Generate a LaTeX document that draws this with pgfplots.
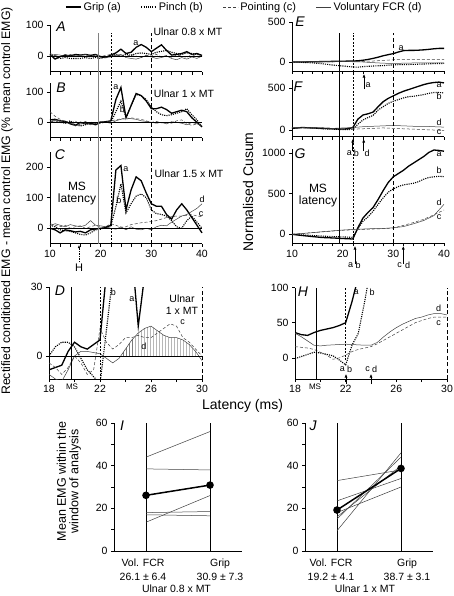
\documentclass[border=0pt]{standalone}
\usepackage{fontspec}
\setmainfont{Liberation Sans}
\usepackage{pgfplots}
\pgfplotsset{compat=1.18}
\usetikzlibrary{patterns,arrows.meta}
\newcommand{\fs}[2]{\fontsize{#1bp}{#2bp}\selectfont}
\pgfplotsset{
  base/.style={scale only axis, axis x line*=bottom, axis y line*=left,
    axis line style={-, line width=0.6bp},
    tick align=outside, major tick length=3bp, minor tick length=3bp,
    tick style={black, line width=0.6bp},
    tick label style={font=\fs{10.5}{12}},
    /pgf/number format/assume math mode=true,
    /pgf/number format/1000 sep={},
    clip=false},
  lt/.style={xmin=10, xmax=40, width=152bp, xtick={10,20,30,40}, minor xtick={12,14,...,38}},
  zt/.style={xmin=18, xmax=30, xtick={18,22,26,30}, minor xtick={20,24,28}, clip=true, clip mode=individual},
  ga/.style={black, line width=1.3bp},
  gb/.style={black, line width=1.1bp, dash pattern=on 1.1bp off 1.1bp},
  gc/.style={black!75, line width=0.5bp, dash pattern=on 3bp off 2bp},
  gd/.style={black!75, line width=0.5bp},
}
\begin{document}
\begin{tikzpicture}
\path[use as bounding box] (0,0) rectangle (454bp,-596bp);

% ---------------- A ----------------
\begin{axis}[base, lt, at={(50bp,-71.5bp)}, anchor=south west, height=46.5bp,
  ymin=-50, ymax=100, ytick={0,100}, xticklabels={},
  legend columns=4, legend cell align=left,
  legend image code/.code={\draw[#1] (0bp,0bp) -- (15bp,0bp);},
  legend style={at={(0.099,1.387)}, anchor=west, draw=none, fill=none, inner sep=0pt,
    font=\fs{11}{13}, /tikz/every even column/.append style={column sep=18bp}}]
\addplot[ga] coordinates {(10,5)(11,-10)(12,-2)(13,3)(14,0)(15,5)(16,3)(17,5)(18,2)(19,5)(20,-3)(21,-5)(22,3)(23,10)(24,22)(25,8)(26,12)(27,28)(28,37)(29,28)(30,14)(31,25)(32,36)(33,18)(34,3)(35,5)(36,8)(37,14)(38,5)(39,8)(40,2)};
\addplot[gb] coordinates {(10,5)(11,0)(12,-8)(13,-5)(14,-8)(15,-8)(16,-8)(17,-5)(18,-8)(19,-5)(20,-8)(21,-3)(22,0)(23,5)(24,0)(25,5)(26,2)(27,8)(28,10)(29,8)(30,5)(31,12)(32,15)(33,18)(34,12)(35,8)(36,5)(37,10)(38,8)(39,5)(40,2)};
\addplot[gc] coordinates {(10,8)(11,2)(12,-3)(13,5)(14,-2)(15,3)(16,0)(17,-3)(18,3)(19,0)(20,-2)(21,2)(22,5)(23,0)(24,3)(25,-3)(26,5)(27,0)(28,-5)(29,3)(30,0)(31,5)(32,-3)(33,2)(34,-5)(35,3)(36,0)(37,-5)(38,5)(39,-3)(40,0)};
\addplot[gd] coordinates {(10,0)(11,5)(12,3)(13,-2)(14,5)(15,0)(16,3)(17,5)(18,-2)(19,4)(20,0)(21,-5)(22,-3)(23,2)(24,5)(25,-5)(26,-8)(27,-10)(28,-5)(29,2)(30,-3)(31,-8)(32,-5)(33,0)(34,-8)(35,-12)(36,-5)(37,-10)(38,-3)(39,-8)(40,0)};
\legend{Grip (a), Pinch (b), Pointing (c), Voluntary FCR (d)}
\draw[line width=0.4bp] (axis cs:10,0) -- (axis cs:40,0);
\end{axis}

% ---------------- B ----------------
\begin{axis}[base, lt, at={(50bp,-137.5bp)}, anchor=south west, height=54.6bp,
  ymin=-50, ymax=130, ytick={0,100}, xticklabels={}]
\addplot[ga] coordinates {(10,8)(11,10)(12,5)(13,3)(14,-5)(15,-10)(16,0)(17,-5)(18,-3)(19,-8)(20,0)(21,2)(22,5)(23,75)(24,115)(25,15)(26,55)(27,95)(28,88)(29,70)(30,45)(31,45)(32,50)(33,42)(34,30)(35,35)(36,40)(37,35)(38,15)(39,0)(40,-15)};
\addplot[gb] coordinates {(10,3)(11,5)(12,0)(13,-3)(14,5)(15,-8)(16,-12)(17,-8)(18,0)(19,-5)(20,0)(21,3)(22,0)(23,35)(24,70)(25,15)(26,55)(27,92)(28,88)(29,75)(30,50)(31,35)(32,25)(33,22)(34,25)(35,30)(36,35)(37,45)(38,25)(39,8)(40,-15)};
\addplot[gc] coordinates {(10,35)(11,20)(12,10)(13,3)(14,-5)(15,5)(16,-10)(17,-3)(18,-8)(19,0)(20,-5)(21,2)(22,5)(23,8)(24,12)(25,10)(26,15)(27,12)(28,10)(29,5)(30,0)(31,3)(32,-2)(33,0)(34,-3)(35,5)(36,8)(37,-5)(38,-10)(39,-5)(40,-12)};
\addplot[gd] coordinates {(10,0)(11,8)(12,5)(13,-3)(14,0)(15,-12)(16,-5)(17,3)(18,-8)(19,-3)(20,3)(21,0)(22,-3)(23,5)(24,10)(25,15)(26,12)(27,10)(28,5)(29,3)(30,0)(31,-3)(32,0)(33,-5)(34,2)(35,0)(36,-3)(37,-8)(38,0)(39,-5)(40,-10)};
\draw[line width=0.4bp] (axis cs:10,0) -- (axis cs:40,0);
\end{axis}

% ---------------- C ----------------
\begin{axis}[base, lt, at={(50bp,-243.6bp)}, anchor=south west, height=91.9bp,
  ymin=-50, ymax=250, ytick={0,100,200}]
\addplot[ga] coordinates {(10,0)(11,-5)(12,-15)(13,-5)(14,-8)(15,-12)(16,-10)(17,-15)(18,-5)(19,-2)(20,0)(21,2)(22,10)(23,190)(24,205)(25,60)(26,125)(27,168)(28,155)(29,115)(30,80)(31,72)(32,72)(33,45)(34,30)(35,60)(36,80)(37,60)(38,35)(39,10)(40,-15)};
\addplot[gb] coordinates {(10,10)(11,5)(12,-5)(13,-8)(14,-10)(15,-15)(16,-20)(17,-22)(18,-15)(19,-5)(20,-3)(21,5)(22,8)(23,70)(24,145)(25,50)(26,80)(27,105)(28,112)(29,100)(30,60)(31,48)(32,45)(33,40)(34,25)(35,5)(36,0)(37,25)(38,40)(39,20)(40,0)};
\addplot[gc] coordinates {(10,15)(11,10)(12,5)(13,10)(14,0)(15,5)(16,8)(17,0)(18,5)(19,10)(20,3)(21,5)(22,15)(23,10)(24,3)(25,5)(26,12)(27,15)(28,18)(29,20)(30,22)(31,25)(32,30)(33,35)(34,38)(35,40)(36,40)(37,42)(38,45)(39,40)(40,38)};
\addplot[gd] coordinates {(10,8)(11,15)(12,10)(13,5)(14,12)(15,8)(16,5)(17,10)(18,25)(19,10)(20,8)(21,5)(22,0)(23,-3)(24,5)(25,-5)(26,5)(27,-3)(28,-5)(29,0)(30,-5)(31,5)(32,10)(33,8)(34,20)(35,30)(36,40)(37,45)(38,55)(39,65)(40,80)};
\draw[line width=0.4bp] (axis cs:10,0) -- (axis cs:40,0);
\draw[gray, line width=1bp] (axis cs:19.5,-50) -- (axis cs:19.5,637);
\draw[line width=0.5bp, dash pattern=on 2bp off 1.5bp] (axis cs:22,-50) -- (axis cs:22,637);
\draw[line width=0.5bp, dash pattern=on 4bp off 2.5bp] (axis cs:30,-50) -- (axis cs:30,637);
\end{axis}

% ---------------- D ----------------
\begin{axis}[base, zt, at={(49bp,-379bp)}, anchor=south west, width=153bp, height=92bp,
  ymin=-10, ymax=30, ytick={0,30}]
\addplot[draw=none, pattern=vertical lines, pattern color=black!80, forget plot] coordinates {(23.625,0)(24,3)(24.5,7)(25,10)(25.5,12)(26,13)(26.5,11)(27,9)(27.5,8)(28,8)(28.5,7)(29,5)(29.5,2)(29.75,0)} \closedcycle;
\addplot[ga] coordinates {(18,-6)(18.5,-5)(19,-4)(19.5,2)(20,6)(20.5,4)(21,3)(21.5,5)(22,7)(22.5,36)(23,75)(23.5,95)(24,115)(24.5,45)(25,13)(25.5,35)(26,55)(26.5,75)(27,95)(28,88)(29,70)(30,45)};
\addplot[gb] coordinates {(18,0)(18.5,4)(19,6)(19.5,6)(20,4)(20.5,-1)(21,-6)(21.5,-9)(22,-12)(22.5,11)(23,35)(23.5,55)(24,70)(25,45)(26,60)(27,90)(28,88)(29,75)(30,50)};
\addplot[gc] coordinates {(18,-3)(18.5,-5)(19,-8)(19.5,-5)(20,0)(20.5,-3)(21,-8)(21.5,-6)(22,12)(22.5,6)(23,3)(23.5,5)(24,8)(24.5,8)(25,9)(25.5,8)(26,8)(26.5,10)(27,12)(27.5,14)(28,13)(28.5,8)(29,6)(29.5,3)(30,0)};
\addplot[gd] coordinates {(18,-8)(18.5,-10)(19,-11)(19.5,-6)(20,0)(20.5,2)(21,2)(21.5,1.5)(22,1)(22.5,-1)(23,-3)(23.5,-1)(24,3)(24.5,7)(25,10)(25.5,12)(26,13)(26.5,11)(27,9)(27.5,8)(28,8)(28.5,7)(29,5)(29.5,2)(30,-2)};
\draw[line width=0.4bp] (axis cs:18,0) -- (axis cs:30,0);
\draw[line width=0.5bp] (axis cs:19.75,-10) -- (axis cs:19.75,30);
\draw[line width=0.5bp, dash pattern=on 2bp off 1.5bp] (axis cs:22,-10) -- (axis cs:22,30);
\draw[line width=0.5bp, dash pattern=on 4bp off 2.5bp] (axis cs:30,-10) -- (axis cs:30,30);
\end{axis}

% ---------------- E ----------------
\begin{axis}[base, lt, at={(292bp,-70.8bp)}, anchor=south west, height=48.8bp,
  ymin=-110, ymax=500, ytick={0,500}, xticklabels={}]
\addplot[ga] coordinates {(10,0)(12,0)(14,3)(16,5)(18,8)(20,10)(22,12)(23,15)(24,22)(25,32)(26,45)(27,60)(28,78)(29,92)(30,105)(31,125)(32,142)(33,145)(34,145)(35,148)(36,152)(37,158)(38,165)(39,170)(40,170)};
\addplot[gb] coordinates {(10,0)(12,-5)(14,-10)(16,-22)(18,-38)(20,-50)(22,-62)(23,-65)(24,-58)(26,-50)(28,-45)(30,-35)(32,-32)(34,-30)(36,-25)(38,-20)(40,-18)};
\addplot[gc] coordinates {(10,0)(12,2)(14,0)(16,3)(18,2)(20,5)(22,5)(24,8)(26,12)(28,20)(30,28)(32,30)(34,30)(36,30)(38,30)(40,32)};
\addplot[gd] coordinates {(10,0)(12,3)(14,5)(16,5)(18,3)(20,5)(22,3)(24,0)(26,-8)(28,-15)(30,-18)(32,-15)(34,-12)(36,-10)(38,-10)(40,-12)};
\end{axis}

% ---------------- F ----------------
\begin{axis}[base, lt, at={(292bp,-136.7bp)}, anchor=south west, height=56.7bp,
  ymin=-80, ymax=600, ytick={0,500}, xticklabels={}]
\addplot[ga] coordinates {(10,20)(12,30)(14,25)(16,20)(18,15)(20,12)(21,15)(22,30)(23,130)(24,180)(25,195)(26,215)(27,280)(28,340)(29,380)(30,410)(31,440)(32,465)(33,485)(34,505)(35,525)(36,545)(37,560)(38,570)(39,575)(40,565)};
\addplot[gb] coordinates {(10,20)(12,30)(14,25)(16,15)(18,10)(20,5)(21,5)(22,10)(23,70)(24,120)(25,150)(26,175)(27,240)(28,280)(29,320)(30,345)(31,365)(32,385)(33,400)(34,405)(35,415)(36,425)(37,440)(38,450)(39,450)(40,445)};
\addplot[gc] coordinates {(10,25)(12,30)(14,20)(16,25)(18,20)(20,15)(22,10)(24,15)(26,20)(28,25)(30,20)(32,15)(34,10)(36,5)(38,0)(40,-5)};
\addplot[gd] coordinates {(10,30)(12,25)(14,30)(16,25)(18,20)(20,25)(22,30)(24,40)(26,45)(28,50)(30,55)(32,50)(34,45)(36,45)(38,40)(40,35)};
\end{axis}

% ---------------- G ----------------
\begin{axis}[base, lt, at={(292bp,-243.2bp)}, anchor=south west, height=94bp,
  ymin=-110, ymax=1050, ytick={0,500,1000}]
\addplot[ga] coordinates {(10,0)(12,-15)(14,-28)(16,-40)(18,-45)(20,-52)(22,-58)(23,80)(24,200)(25,270)(26,330)(27,430)(28,540)(29,640)(30,710)(31,750)(32,790)(33,840)(34,880)(35,920)(36,960)(37,1010)(38,1040)(39,1035)(40,1025)};
\addplot[gb] coordinates {(10,0)(12,-8)(14,-15)(16,-22)(18,-28)(20,-32)(22,-38)(23,70)(24,160)(25,215)(26,285)(27,370)(28,450)(29,520)(30,560)(31,590)(32,610)(33,620)(34,630)(35,650)(36,680)(37,700)(38,710)(39,715)(40,712)};
\addplot[gc] coordinates {(10,0)(12,10)(14,20)(16,30)(18,40)(20,50)(22,55)(24,60)(26,65)(28,70)(30,78)(32,110)(34,145)(36,185)(38,240)(40,300)};
\addplot[gd] coordinates {(10,0)(12,10)(14,20)(16,32)(18,42)(20,52)(22,60)(24,65)(26,70)(28,72)(30,80)(32,95)(34,130)(36,170)(38,230)(40,370)};
\draw[line width=0.6bp] (axis cs:19.4,-110) -- (axis cs:19.4,2485);
\draw[line width=0.5bp, dash pattern=on 2bp off 1.5bp] (axis cs:22,-110) -- (axis cs:22,2485);
\draw[line width=0.5bp, dash pattern=on 4bp off 2.5bp] (axis cs:30,-110) -- (axis cs:30,2485);
\end{axis}

% ---------------- H ----------------
\begin{axis}[base, zt, at={(295bp,-379bp)}, anchor=south west, width=152bp, height=91.5bp,
  ymin=-30, ymax=100, ytick={0,50,100}]
\addplot[ga] coordinates {(18,36)(18.5,33)(19,32)(19.5,36)(20,39)(20.5,41)(21,43)(21.5,46)(22,50)(22.5,80)(23,115)};
\addplot[gb] coordinates {(18,-1)(18.5,2)(19,5)(19.5,8)(20,7)(20.5,5)(21,3)(21.5,-3)(22,-10)(22.5,18)(23,35)(23.5,80)(24,130)};
\addplot[gc] coordinates {(18,16)(18.5,15)(19,14)(19.5,12)(20,8)(20.5,4)(21,-2)(21.5,0)(22,4)(22.5,9)(23,12)(23.5,14)(24,16)(24.5,20)(25,25)(25.5,30)(26,35)(26.5,40)(27,45)(27.5,50)(28,53)(28.5,56)(29,58)(29.5,58)(30,58)};
\addplot[gd] coordinates {(18,35)(18.5,30)(19,24)(19.5,18)(20,17)(20.5,18)(21,18.5)(21.5,19)(22,19.5)(22.5,19)(23,18.5)(23.5,18)(24,18)(24.5,22)(25,30)(25.5,37)(26,43)(26.5,48)(27,52)(27.5,56)(28,58)(28.5,61)(29,63)(29.5,63)(30,61)};
\draw[line width=0.5bp] (axis cs:19.7,-30) -- (axis cs:19.7,100);
\draw[line width=0.5bp, dash pattern=on 2bp off 1.5bp] (axis cs:22,-3) -- (axis cs:22,100);
\draw[line width=0.5bp, dash pattern=on 4bp off 2.5bp] (axis cs:30,-30) -- (axis cs:30,100);
\end{axis}

% ---------------- I ----------------
\begin{axis}[base, at={(114bp,-551bp)}, anchor=south west, width=128bp, height=128bp,
  xmin=-0.5, xmax=1.5, ymin=0, ymax=60, xtick=\empty, ytick={0,20,40,60}, minor ytick={10,30,50}]
\draw[line width=0.5bp] (axis cs:0,0) -- (axis cs:0,60);
\draw[line width=0.5bp] (axis cs:1,0) -- (axis cs:1,60);
\addplot[gd] coordinates {(0,44)(1,56)};
\addplot[gd] coordinates {(0,38.5)(1,38)};
\addplot[gd] coordinates {(0,18)(1,18.5)};
\addplot[gd] coordinates {(0,17)(1,16.5)};
\addplot[gd] coordinates {(0,13.5)(1,26)};
\addplot[black, line width=1.5bp, mark=*, mark size=3bp] coordinates {(0,26.1)(1,30.9)};
\end{axis}

% ---------------- J ----------------
\begin{axis}[base, at={(305bp,-551bp)}, anchor=south west, width=128bp, height=128bp,
  xmin=-0.5, xmax=1.5, ymin=0, ymax=60, xtick=\empty, ytick={0,20,40,60}, minor ytick={10,30,50}]
\draw[line width=0.5bp] (axis cs:0,0) -- (axis cs:0,60);
\draw[line width=0.5bp] (axis cs:1,0) -- (axis cs:1,60);
\addplot[gd] coordinates {(0,33)(1,38)};
\addplot[gd] coordinates {(0,23.5)(1,34)};
\addplot[gd] coordinates {(0,18)(1,30)};
\addplot[gd] coordinates {(0,16)(1,40)};
\addplot[gd] coordinates {(0,15)(1,44)};
\addplot[gd] coordinates {(0,9.5)(1,46)};
\addplot[black, line width=1.5bp, mark=*, mark size=3bp] coordinates {(0,19.2)(1,38.7)};
\end{axis}

% ---------------- text ----------------
\begin{scope}[every node/.style={inner sep=0pt}]
\foreach \l/\x/\y in {A/61/27, B/61/88, C/60/155, D/60/291, E/300/22, F/298/87, G/300/154, H/303/292, I/122/426, J/313/426}
  \node[font=\fs{14}{14}\itshape] at (\x bp,-\y bp) {\l};
\node[font=\fs{10.5}{12}] at (188bp,-32bp) {Ulnar 0.8 x MT};
\node[font=\fs{10.5}{12}] at (184bp,-94bp) {Ulnar 1 x MT};
\node[font=\fs{10.5}{12}] at (189bp,-174bp) {Ulnar 1.5 x MT};
\node[font=\fs{12}{12}, align=center] at (77bp,-194bp) {MS\\latency};
\node[font=\fs{12}{12}, align=center] at (318bp,-196bp) {MS\\latency};
\node[font=\fs{10.5}{12}, align=center] at (182bp,-305bp) {Ulnar\\1 x MT};
\node[font=\fs{11}{12}] at (79bp,-268bp) {H};
\draw[line width=0.5bp, dash pattern=on 1.5bp off 1bp, -{Latex[length=3bp,width=2.5bp]}] (79bp,-262bp) -- (79bp,-245bp);
% curve labels
\foreach \l/\x/\y in {a/136/43, a/116/87.5, b/122.5/109.5, a/126/169, b/119/200, d/202/199.5, c/201/214,
  b/113.5/292.5, a/132/299.5, c/182.5/322.5, d/144/346.5,
  a/401/48, a/439/85, b/439/96.5, d/439/122.5, c/439/132,
  a/439/154, b/439/170, d/439/202, c/439/217.5,
  a/356/292.5, b/372/292.5, d/438.5/308.5, c/438.5/323.5}
  \node[font=\fs{9}{10}] at (\x bp,-\y bp) {\l};
% arrows right side
\draw[line width=0.6bp, -{Latex[length=3.5bp,width=3bp]}] (364bp,-89bp) -- (364bp,-74bp);
\node[font=\fs{9}{10}] at (368bp,-85bp) {a};
\draw[line width=0.6bp, -{Latex[length=3.5bp,width=3bp]}] (352.7bp,-151bp) -- (352.7bp,-139bp);
\draw[line width=0.6bp, -{Latex[length=3.5bp,width=3bp]}] (363.7bp,-151bp) -- (363.7bp,-139bp);
\node[font=\fs{9}{10}] at (349.3bp,-153.5bp) {a};
\node[font=\fs{9}{10}] at (356.3bp,-153.5bp) {b};
\node[font=\fs{9}{10}] at (367bp,-153.5bp) {d};
\draw[line width=0.6bp, -{Latex[length=3.5bp,width=3bp]}] (355bp,-264bp) -- (355bp,-246bp);
\draw[line width=0.6bp, -{Latex[length=3.5bp,width=3bp]}] (403.3bp,-264bp) -- (403.3bp,-246bp);
\node[font=\fs{9}{10}] at (350.5bp,-265bp) {a};
\node[font=\fs{9}{10}] at (358bp,-265bp) {b};
\node[font=\fs{9}{10}] at (399.5bp,-265bp) {c};
\node[font=\fs{9}{10}] at (407.5bp,-265bp) {d};
\draw[line width=0.6bp, -{Latex[length=3.5bp,width=3bp]}] (346bp,-384bp) -- (346bp,-374bp);
\draw[line width=0.6bp, -{Latex[length=3.5bp,width=3bp]}] (371bp,-384bp) -- (371bp,-374bp);
\node[font=\fs{9}{10}] at (342.3bp,-369.5bp) {a};
\node[font=\fs{9}{10}] at (349.5bp,-369.5bp) {b};
\node[font=\fs{9}{10}] at (367.7bp,-369.5bp) {c};
\node[font=\fs{9}{10}] at (374.5bp,-369.5bp) {d};
\node[font=\fs{8}{9}] at (72bp,-387bp) {MS};
\node[font=\fs{8}{9}] at (315bp,-387bp) {MS};
% axis titles
\node[font=\fs{14}{14}] at (242.5bp,-406bp) {Latency (ms)};
\node[font=\fs{12.3}{14}, rotate=90] at (7bp,-201bp) {Rectified conditioned EMG - mean control EMG (\% mean control EMG)};
\node[font=\fs{14}{14}, rotate=90] at (248bp,-192bp) {Normalised Cusum};
\node[font=\fs{12.5}{12.5}, rotate=90, align=center] at (69bp,-481.5bp) {Mean EMG within the\\window of analysis};
% I/J category labels
\node[font=\fs{10.5}{14}, align=center] at (143bp,-570bp) {Vol. FCR\\26.1 ± 6.4};
\node[font=\fs{10.5}{14}, align=center] at (220bp,-570bp) {Grip\\30.9 ± 7.3};
\node[font=\fs{10.5}{12}] at (176.5bp,-589bp) {Ulnar 0.8 x MT};
\node[font=\fs{10.5}{14}, align=center] at (331bp,-570bp) {Vol. FCR\\19.2 ± 4.1};
\node[font=\fs{10.5}{14}, align=center] at (407bp,-570bp) {Grip\\38.7 ± 3.1};
\node[font=\fs{10.5}{12}] at (365bp,-589bp) {Ulnar 1 x MT};
\end{scope}
\end{tikzpicture}
\end{document}
